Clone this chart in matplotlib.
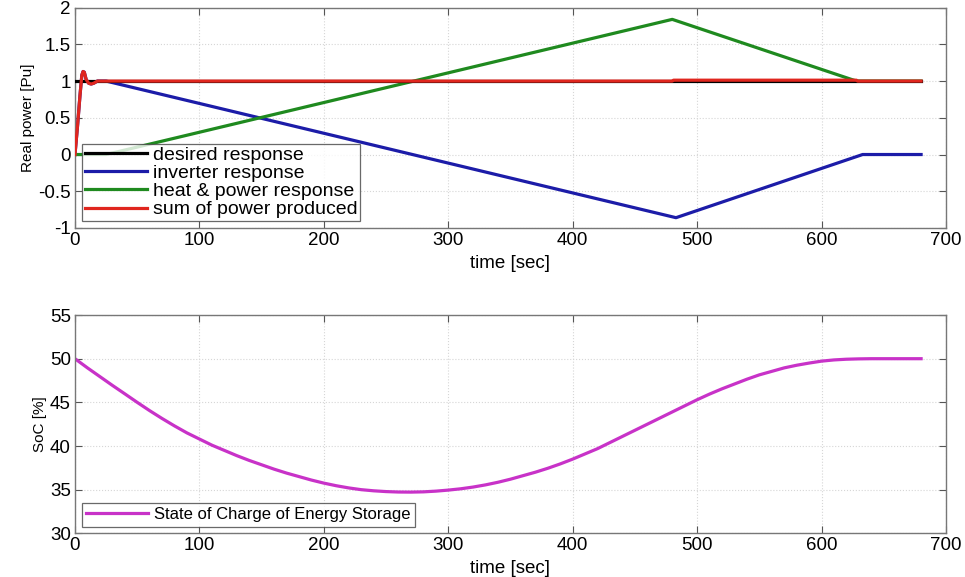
import matplotlib
matplotlib.use("Agg")
import matplotlib.pyplot as plt

plt.rcParams['font.family'] = ['Liberation Sans', 'DejaVu Sans']

# ---- data ----
t_desired = [0, 680]
p_desired = [1.0, 1.0]

t_sum = [0, 2, 4, 5.5, 6.5, 7.5, 9, 11, 13, 15, 18, 480, 481, 628, 629, 680]
p_sum = [0, 0.38, 0.80, 1.08, 1.13, 1.12, 1.02, 0.97, 0.96, 0.97, 1.0, 1.0, 1.012, 1.012, 1.0, 1.0]

t_inv = [0, 2, 4, 5.5, 6.5, 7.5, 9, 11, 13, 15, 18, 25, 483, 633, 680]
p_inv = [0, 0.38, 0.80, 1.08, 1.13, 1.12, 1.02, 0.97, 0.96, 0.97, 1.0, 1.0, -0.86, 0.0, 0.0]

t_heat = [0, 25, 480, 628, 680]
p_heat = [0, 0, 1.84, 1.0, 1.0]

t_soc = [0, 10, 20, 30, 40, 50, 60, 70, 80, 90, 100, 110, 120, 130, 140, 150,
         160, 170, 180, 190, 200, 210, 220, 230, 240, 250, 260, 270, 280, 290,
         300, 310, 320, 330, 340, 350, 360, 370, 380, 390, 400, 410, 420, 430,
         440, 450, 460, 470, 480, 490, 500, 510, 520, 530, 540, 550, 560, 570,
         580, 590, 600, 610, 620, 630, 640, 680]
soc = [50.0, 48.95, 47.95, 46.95, 45.98, 45.0, 44.05, 43.15, 42.3, 41.5,
       40.8, 40.1, 39.5, 38.9, 38.35, 37.85, 37.35, 36.9, 36.5, 36.1,
       35.75, 35.45, 35.2, 35.0, 34.87, 34.78, 34.73, 34.72, 34.75, 34.83,
       34.95, 35.1, 35.3, 35.55, 35.85, 36.2, 36.6, 37.0, 37.45, 37.95,
       38.5, 39.1, 39.7, 40.4, 41.1, 41.8, 42.5, 43.2, 43.9, 44.6,
       45.3, 45.95, 46.55, 47.1, 47.65, 48.15, 48.55, 48.95, 49.25, 49.5,
       49.72, 49.86, 49.94, 49.98, 50.0, 50.0]

xticks = [0, 100, 200, 300, 400, 500, 600, 700]
yticks_top = [-1, -0.5, 0, 0.5, 1, 1.5, 2]
yticks_bot = [30, 35, 40, 45, 50, 55]

labels_top = ['desired response', 'inverter response',
              'heat & power response', 'sum of power produced']
label_bot = 'State of Charge of Energy Storage'

# ---- figure ----
fig = plt.figure(figsize=(9.65, 5.77), dpi=100)
ax1 = fig.add_axes([0.0777, 0.6049, 0.9026, 0.3819])
ax2 = fig.add_axes([0.0777, 0.0757, 0.9026, 0.3783])

lw = 2.3
ax1.plot(t_desired, p_desired, color='black', lw=lw, label=labels_top[0], zorder=3)
ax1.plot(t_inv, p_inv, color='#1c1ca8', lw=lw, label=labels_top[1], zorder=2)
ax1.plot(t_heat, p_heat, color='#1f8a1f', lw=lw, label=labels_top[2], zorder=2)
ax1.plot(t_sum, p_sum, color='#e0261e', lw=lw, label=labels_top[3], zorder=4)

ax2.plot(t_soc, soc, color='#c832c8', lw=lw, label=label_bot)

narrow = ['Liberation Sans Narrow', 'Liberation Sans']
for ax, yt, ylab in [(ax1, yticks_top, 'Real power [Pu]'), (ax2, yticks_bot, 'SoC [%]')]:
    ax.set_xlim(0, 700)
    ax.set_xticks(xticks)
    ax.set_yticks(yt)
    ax.set_ylim(yt[0], yt[-1])
    ax.set_yticklabels([('%g' % v) for v in yt])
    ax.grid(True, color='#d6d6d6', linestyle=':', linewidth=0.8)
    ax.tick_params(direction='in', top=True, right=True, length=5, width=0.8,
                   labelsize=13.5, color='#555555', pad=3)
    for s in ax.spines.values():
        s.set_color('#777777')
        s.set_linewidth(1.0)
    ax.set_xlabel('time [sec]', fontsize=13.5, family=narrow, labelpad=4)
    ax.set_ylabel(ylab, fontsize=11, family=narrow, labelpad=2)

leg1 = ax1.legend(loc='lower left', fontsize=14, frameon=True, fancybox=False,
                  edgecolor='#444444', handlelength=3.2, handletextpad=0.3,
                  borderaxespad=0.35, labelspacing=0.03, borderpad=0.14)
leg1.get_frame().set_linewidth(0.9)
leg2 = ax2.legend(loc='lower left', fontsize=12, frameon=True, fancybox=False,
                  edgecolor='#444444', handlelength=3.7, handletextpad=0.4,
                  borderaxespad=0.4, borderpad=0.26)
leg2.get_frame().set_linewidth(0.9)

fig.savefig('out.png', dpi=100)
